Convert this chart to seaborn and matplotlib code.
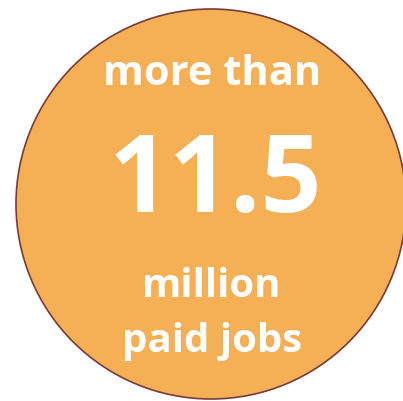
import matplotlib
matplotlib.use("Agg")
import matplotlib.pyplot as plt
from matplotlib.patches import Circle
import seaborn as sns

# Data
lines = ["more than", "11.5", "million", "paid jobs"]
sizes = [30, 77, 29, 29]
baselines = [85, 212, 297, 352]
centers_x = [212.5, 215, 212, 212.5]

sns.set_theme(style="white")
plt.rcParams['font.family'] = ['Open Sans', 'DejaVu Sans']

W, H = 403, 401
fig = plt.figure(figsize=(W / 100, H / 100), dpi=100)
ax = fig.add_axes([0, 0, 1, 1])
ax.set_xlim(0, W)
ax.set_ylim(H, 0)
ax.set_axis_off()

circle = Circle((211, 204), 195, facecolor="#F5AF55", edgecolor="#7A3B3B", linewidth=1.2)
ax.add_patch(circle)

for txt, s, y, x in zip(lines, sizes, baselines, centers_x):
    ax.text(x, y, txt, fontsize=s, fontweight="bold", color="white",
            ha="center", va="baseline")

fig.savefig("out.png", dpi=100, facecolor="white")
